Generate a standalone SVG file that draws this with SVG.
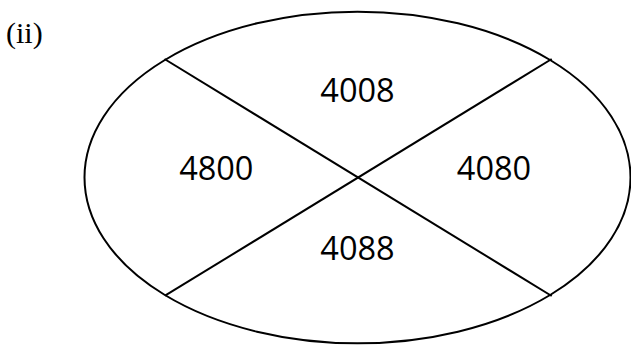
<svg xmlns="http://www.w3.org/2000/svg" width="631" height="345" viewBox="0 0 631 345">
<style>
.num{font-family:"Open Sans","Liberation Sans",sans-serif;font-size:32.5px;fill:#000;text-anchor:middle}
.lbl{font-family:"Liberation Serif",serif;font-size:30px;fill:#000}
.ln{stroke:#000;stroke-width:2;fill:none}
</style>
<rect width="631" height="345" fill="#fff"/>
<text class="lbl" x="6" y="43">(ii)</text>
<g id="ellipse">
<ellipse class="ln" cx="357.5" cy="177.5" rx="273" ry="165.8"/>
</g>
<g id="connectors">
<line class="ln" x1="164.5" y1="59" x2="551.7" y2="296"/>
<line class="ln" x1="551.7" y1="59" x2="165" y2="295.7"/>
</g>
<g id="n4008"><text class="num" x="357.5" y="101.5">4008</text></g>
<g id="n4800"><text class="num" x="216.3" y="180">4800</text></g>
<g id="n4080"><text class="num" x="494" y="180">4080</text></g>
<g id="n4088"><text class="num" x="357.5" y="260">4088</text></g>
</svg>
